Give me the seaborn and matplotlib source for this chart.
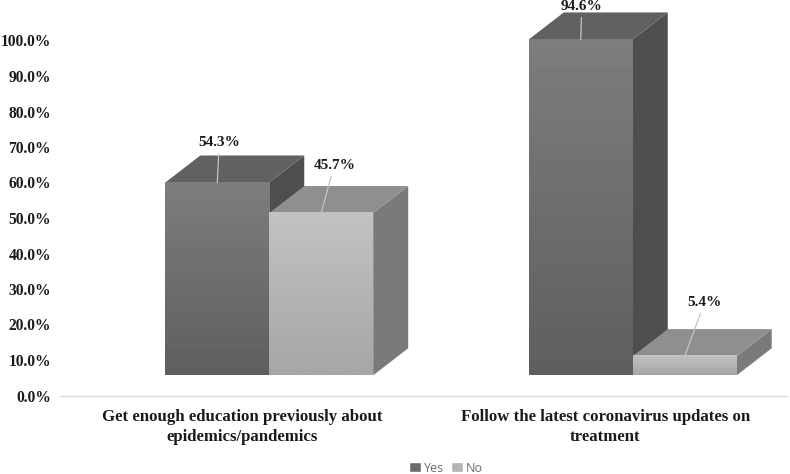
import numpy as np
import pandas as pd
import matplotlib
matplotlib.use("Agg")
import matplotlib.pyplot as plt
from matplotlib.patches import Polygon
import seaborn as sns

categories = ["Get enough education previously about\nepidemics/pandemics",
              "Follow the latest coronavirus updates on\ntreatment"]
yes_values = [54.3, 94.6]
no_values = [45.7, 5.4]
series_names = ["Yes", "No"]
y_ticks = [0, 10, 20, 30, 40, 50, 60, 70, 80, 90, 100]

W, H = 790, 474
SERIF = "Liberation Serif"
sns.set_theme(style="white")
plt.rcParams["font.family"] = [SERIF, "DejaVu Sans"]

df = pd.DataFrame({
    "category": categories * 2,
    "series": [series_names[0]] * 2 + [series_names[1]] * 2,
    "value": yes_values + no_values,
})

fig = plt.figure(figsize=(W / 100, H / 100), dpi=100)
L, R, B, T = 60, 787, 395.5, 40.5
ax = fig.add_axes([L / W, 1 - B / H, (R - L) / W, (B - T) / H])

sns.barplot(data=df, x="category", y="value", hue="series", order=categories,
            hue_order=series_names, palette=["#6b6b6b", "#b4b4b4"],
            width=0.572, gap=0, dodge=True, errorbar=None, ax=ax, saturation=1)

ax.set_xlim(-0.5, 1.5)
ax.set_ylim(0, 100)
px_x = (R - L) / 2            # px per category
px_y = (B - T) / 100          # px per percent

base = 5.7                    # floor of the 3D box, in percent
shift = 27.5 / px_x           # floor recess, in category units
dx, dy = 35 / px_x, 27 / px_y # depth vector

styles = [
    dict(grad=(0.49, 0.37), side="#4e4e4e", top="#616161"),
    dict(grad=(0.76, 0.65), side="#7a7a7a", top="#8f8f8f"),
]
leaders = {54.3: (2, 40), 45.7: (13, 48), 94.6: (1, 33), 5.4: (20, 54)}

z = 3
for container, st in zip(ax.containers, styles):
    for rect in container:
        v = rect.get_height()
        x0 = rect.get_x() + shift
        w = rect.get_width()
        rect.set_visible(False)
        y0, y1 = base, base + v
        ax.add_patch(Polygon([(x0 + w, y0), (x0 + w + dx, y0 + dy), (x0 + w + dx, y1 + dy), (x0 + w, y1)],
                             closed=True, fc=st["side"], ec="none", zorder=z, clip_on=False))
        ax.add_patch(Polygon([(x0, y1), (x0 + dx, y1 + dy), (x0 + w + dx, y1 + dy), (x0 + w, y1)],
                             closed=True, fc=st["top"], ec="none", zorder=z, clip_on=False))
        grad = np.linspace(st["grad"][0], st["grad"][1], 64).reshape(-1, 1)
        ax.imshow(grad, extent=(x0, x0 + w, y0, y1), origin="upper", cmap="gray", vmin=0, vmax=1,
                  aspect="auto", zorder=z + 0.5, interpolation="bilinear", clip_on=False)
        ox, oy = leaders[v]
        ax.annotate(f"{v:.1f}%", xy=(x0 + w / 2, y1), xycoords="data",
                    xytext=(ox, oy), textcoords="offset pixels", ha="center", va="center",
                    fontsize=11, fontweight="bold", color="#1a1a1a", fontfamily=SERIF,
                    zorder=20, annotation_clip=False,
                    arrowprops=dict(arrowstyle="-", color="#c4c4c4", lw=0.9, shrinkA=1, shrinkB=0))
        z += 1

ax.set_xlim(-0.5, 1.5)
ax.set_ylim(0, 100)
ax.set_yticks(y_ticks)
ax.set_yticklabels([f"{t:.1f}%" for t in y_ticks], fontsize=11.2, fontweight="bold", color="#1a1a1a")
ax.set_xlabel("")
ax.set_ylabel("")
ax.tick_params(axis="both", length=0)
ax.tick_params(axis="y", pad=6.5)
ax.tick_params(axis="x", pad=10)
for lab in ax.get_xticklabels():
    lab.set_fontsize(12.1)
    lab.set_fontweight("bold")
    lab.set_color("#1a1a1a")
    lab.set_linespacing(1.3)
sns.despine(ax=ax, left=True, top=True, right=True)
ax.spines["bottom"].set_color("#dedede")
ax.spines["bottom"].set_linewidth(1)

sns.move_legend(ax, "center", bbox_to_anchor=(446 / W, 1 - 468 / H),
                bbox_transform=fig.transFigure, ncol=2, frameon=False, title=None,
                prop={"family": "Open Sans", "size": 9}, labelcolor="#6e6e6e",
                handlelength=0.9, handleheight=0.9, handletextpad=0.25, columnspacing=0.6,
                borderpad=0, borderaxespad=0)

fig.savefig("out.png", dpi=100)
